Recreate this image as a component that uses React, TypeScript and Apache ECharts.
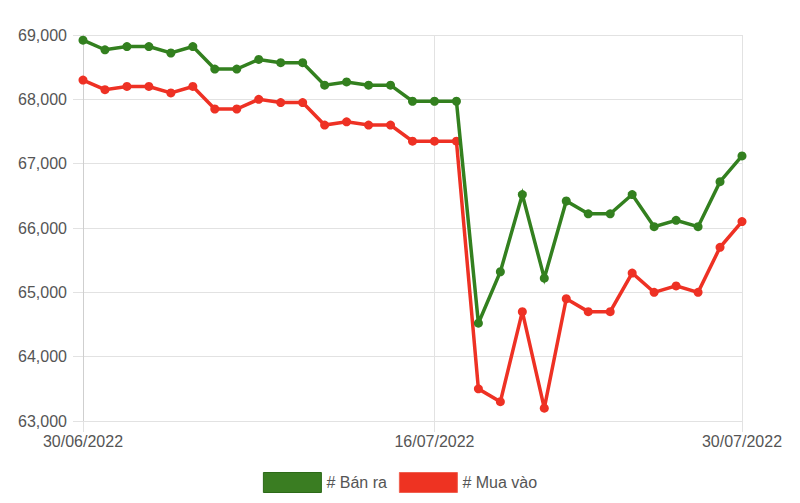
import React, { useEffect, useRef } from "react";
import * as echarts from "echarts";

const dates = [
  "30/06/2022", "01/07/2022", "02/07/2022", "03/07/2022", "04/07/2022", "05/07/2022",
  "06/07/2022", "07/07/2022", "08/07/2022", "09/07/2022", "10/07/2022", "11/07/2022",
  "12/07/2022", "13/07/2022", "14/07/2022", "15/07/2022", "16/07/2022", "17/07/2022",
  "18/07/2022", "19/07/2022", "20/07/2022", "21/07/2022", "22/07/2022", "23/07/2022",
  "24/07/2022", "25/07/2022", "26/07/2022", "27/07/2022", "28/07/2022", "29/07/2022",
  "30/07/2022",
];

const banRa = [
  68920, 68770, 68820, 68820, 68720, 68820, 68470, 68470, 68620, 68570, 68570,
  68220, 68270, 68220, 68220, 67970, 67970, 67970, 64520, 65320, 66520, 65220,
  66420, 66220, 66220, 66520, 66020, 66120, 66020, 66720, 67120,
];

const muaVao = [
  68300, 68150, 68200, 68200, 68100, 68200, 67850, 67850, 68000, 67950, 67950,
  67600, 67650, 67600, 67600, 67350, 67350, 67350, 63500, 63300, 64700, 63200,
  64900, 64700, 64700, 65300, 65000, 65100, 65000, 65700, 66100,
];

const shownLabels = [0, 16, 30];

const GREEN = "#33801f";
const RED = "#ee3124";
const FONT = "'Liberation Sans', Arial, Helvetica, sans-serif";

export default function App() {
  const ref = useRef<HTMLDivElement>(null);

  useEffect(() => {
    if (!ref.current) return;
    const chart = echarts.init(ref.current, null, { renderer: "svg" });
    const showIdx = (i: number) => shownLabels.indexOf(i) >= 0;
    chart.setOption({
      animation: false,
      textStyle: { fontFamily: FONT },
      grid: { left: 83, right: 58, top: 35, bottom: 82, containLabel: false },
      legend: {
        top: 467,
        left: "center",
        icon: "rect",
        itemWidth: 58,
        itemHeight: 20,
        itemGap: 12,
        textStyle: { color: "#555", fontSize: 16, fontFamily: FONT },
        data: [
          { name: "# Bán ra", itemStyle: { color: "#3a7d22", borderColor: "#2c6a18", borderWidth: 1 } },
          { name: "# Mua vào", itemStyle: { color: "#ee3322", borderColor: "#f06050", borderWidth: 1 } },
        ],
      },
      xAxis: {
        type: "category",
        data: dates,
        boundaryGap: false,
        axisLine: { show: false },
        axisTick: {
          show: true,
          length: 11,
          interval: (i: number) => showIdx(i),
          lineStyle: { color: "#e2e2e2" },
        },
        axisLabel: {
          interval: (i: number) => showIdx(i),
          color: "#555",
          fontSize: 16,
          fontFamily: FONT,
          margin: 12,
        },
        splitLine: {
          show: true,
          interval: (i: number) => showIdx(i) && i !== 0,
          lineStyle: { color: "#e2e2e2", width: 1 },
        },
      },
      yAxis: {
        type: "value",
        min: 63000,
        max: 69000,
        interval: 1000,
        axisLine: { show: true, lineStyle: { color: "#cfcfcf", width: 1 } },
        axisTick: { show: true, length: 10, lineStyle: { color: "#e2e2e2" } },
        axisLabel: { color: "#555", fontSize: 16, fontFamily: FONT, margin: 16 },
        splitLine: { show: true, lineStyle: { color: "#e2e2e2", width: 1 } },
      },
      series: [
        {
          name: "# Bán ra",
          type: "line",
          data: banRa,
          color: GREEN,
          symbol: "circle",
          symbolSize: 9,
          lineStyle: { color: GREEN, width: 3.5, join: "miter" },
          itemStyle: { color: GREEN },
          z: 3,
        },
        {
          name: "# Mua vào",
          type: "line",
          data: muaVao,
          color: RED,
          symbol: "circle",
          symbolSize: 9,
          lineStyle: { color: RED, width: 3.5, join: "miter" },
          itemStyle: { color: RED },
          z: 2,
        },
      ],
    });
    return () => chart.dispose();
  }, []);

  return <div ref={ref} style={{ width: 800, height: 503, position: "absolute", left: 0, top: 0 }} />;
}
